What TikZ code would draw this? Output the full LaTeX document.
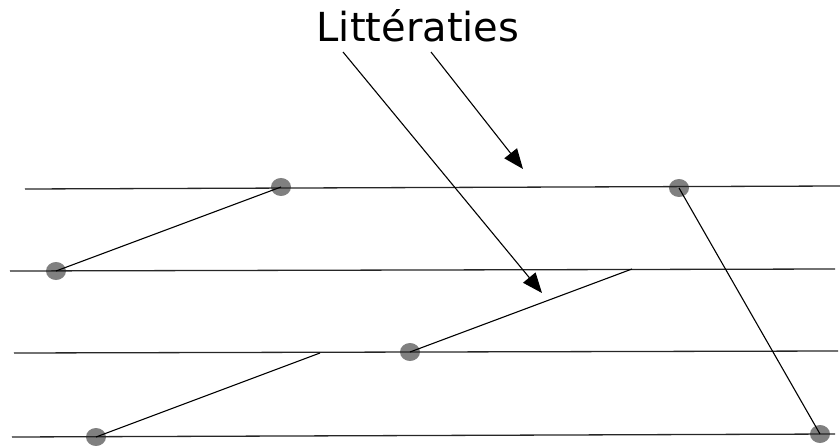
\documentclass[tikz,border=0pt]{standalone}
\usepackage{fontspec}
\setmainfont{DejaVu Sans}
\usetikzlibrary{arrows.meta,shapes.geometric}

\begin{document}
\begin{tikzpicture}[
  x=1pt, y=-1pt,
  dot/.style={ellipse, fill=black!50, minimum width=20pt, minimum height=18pt, inner sep=0pt},
  rail/.style={line width=1.3pt, black!85},
  link/.style={line width=1.1pt, black},
  arrow/.style={-{Triangle[length=20pt,width=16pt]}, line width=1.1pt}
]
\useasboundingbox (0,0) rectangle (840,446);

% title
\node[font=\fontsize{40}{48}\selectfont, anchor=base, inner sep=0pt] (title) at (418,42) {Littératies};

% dots
\node[dot] (a1) at (281,187) {};
\node[dot] (a2) at (679,188) {};
\node[dot] (b1) at (56,271) {};
\node[dot] (c1) at (410,352) {};
\node[dot] (d1) at (96,437) {};
\node[dot] (d2) at (820,434) {};

% line ends
\coordinate (l1w) at (25,189);  \coordinate (l1e) at (840,186);
\coordinate (l2w) at (10,271);  \coordinate (l2e) at (835,269);
\coordinate (l3w) at (14,353);  \coordinate (l3e) at (838,351);
\coordinate (l4w) at (12,437);  \coordinate (l4e) at (835,434);
\coordinate (p2) at (632,269);
\coordinate (p3) at (320,353);

% arrow ends
\coordinate (t1) at (343,52);  \coordinate (h1) at (542,293);
\coordinate (t2) at (431,52);  \coordinate (h2) at (523,169);

\draw[rail] (l1w) -- (l1e);
\draw[rail] (l2w) -- (l2e);
\draw[rail] (l3w) -- (l3e);
\draw[rail] (l4w) -- (l4e);

\draw[link] (a1.center) -- (b1.center);
\draw[link] (a2.center) -- (d2.center);
\draw[link] (d1.center) -- (p3);
\draw[link] (c1.center) -- (p2);

\draw[arrow] (t1) -- (h1);
\draw[arrow] (t2) -- (h2);
\end{tikzpicture}
\end{document}
